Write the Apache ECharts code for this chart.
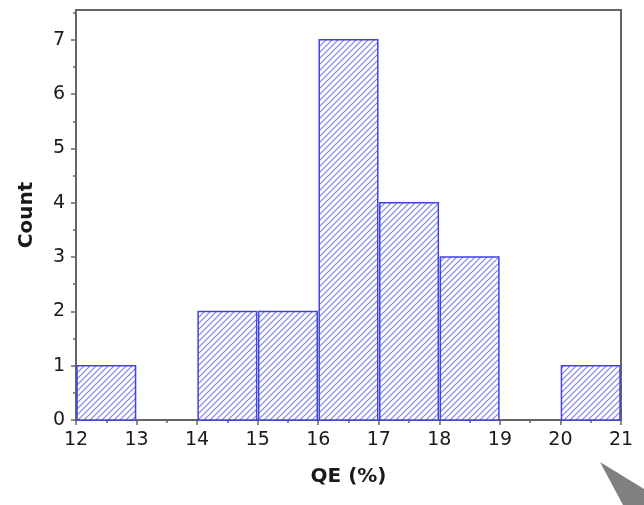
<!DOCTYPE html>
<html>
<head>
<meta charset="utf-8">
<script src="https://cdn.jsdelivr.net/npm/echarts@6/dist/echarts.min.js"></script>
<style>html,body{margin:0;padding:0;background:#fff}#c{width:644px;height:505px}</style>
</head>
<body>
<div id="c"></div>
<script>
// Histogram bins (left edges) and counts
const binStarts = [12, 13, 14, 15, 16, 17, 18, 19, 20];
const binWidth = 1;
const counts = [1, 0, 2, 2, 7, 4, 3, 0, 1];
const xTicks = [12, 13, 14, 15, 16, 17, 18, 19, 20, 21];
const yTicks = [0, 1, 2, 3, 4, 5, 6, 7];
const yMinorTicks = [0.5, 1.5, 2.5, 3.5, 4.5, 5.5, 6.5, 7.5];
const xTitle = 'QE (%)';
const yTitle = 'Count';

function hatch() {
  const s = 6;
  const cv = document.createElement('canvas');
  cv.width = s; cv.height = s;
  const ctx = cv.getContext('2d');
  ctx.fillStyle = '#ffffff';
  ctx.fillRect(0, 0, s, s);
  ctx.strokeStyle = '#7b7be6';
  ctx.lineWidth = 1.1;
  ctx.beginPath();
  ctx.moveTo(-1, s + 1); ctx.lineTo(s + 1, -1);
  ctx.moveTo(-1, 1); ctx.lineTo(1, -1);
  ctx.moveTo(s - 1, s + 1); ctx.lineTo(s + 1, s - 1);
  ctx.stroke();
  return cv;
}
const pattern = hatch();

const chart = echarts.init(document.getElementById('c'), null, {renderer: 'canvas'});
const lblFont = {fontFamily: 'DejaVu Sans', fontSize: 19, color: '#1a1a1a'};
const axisCol = '#666666';
chart.setOption({
  animation: false,
  grid: {left: 76, right: 23, top: 10, bottom: 85, show: true, borderColor: axisCol, borderWidth: 2, backgroundColor: 'transparent'},
  xAxis: {
    type: 'value', min: 12, max: 21, interval: 1,
    name: xTitle, nameLocation: 'middle', nameGap: 47,
    nameTextStyle: {fontFamily: 'DejaVu Sans', fontWeight: 'bold', fontSize: 20, color: '#1a1a1a'},
    axisLine: {show: true, lineStyle: {color: axisCol, width: 2}},
    axisTick: {show: true, inside: false, length: 5, lineStyle: {color: axisCol, width: 1.5}},
    minorTick: {show: true, splitNumber: 2, length: 3, lineStyle: {color: axisCol, width: 1.5}},
    axisLabel: Object.assign({margin: 11, customValues: xTicks}, lblFont),
    splitLine: {show: false}
  },
  yAxis: [{
    type: 'value', min: 0, max: 7.55,
    name: yTitle, nameLocation: 'middle', nameGap: 39, nameRotate: 90,
    nameTextStyle: {fontFamily: 'DejaVu Sans', fontWeight: 'bold', fontSize: 20, color: '#1a1a1a'},
    axisLine: {show: true, lineStyle: {color: axisCol, width: 2}},
    axisTick: {show: true, inside: false, length: 5, customValues: yTicks, lineStyle: {color: axisCol, width: 1.5}},
    axisLabel: Object.assign({margin: 11, customValues: yTicks}, lblFont),
    splitLine: {show: false}
  }, {
    type: 'value', min: 0, max: 7.55, position: 'left',
    axisLine: {show: false},
    axisTick: {show: true, inside: false, length: 3, customValues: yMinorTicks, lineStyle: {color: axisCol, width: 1.5}},
    axisLabel: {show: false},
    splitLine: {show: false}
  }],
  series: [{
    type: 'custom',
    coordinateSystem: 'cartesian2d',
    data: binStarts.map((b, i) => [b, b + binWidth, counts[i]]),
    encode: {x: [0, 1], y: 2},
    renderItem: function (params, api) {
      const v = api.value(2);
      if (!v) return null;
      const p0 = api.coord([api.value(0), v]);
      const p1 = api.coord([api.value(1), 0]);
      return {
        type: 'rect',
        shape: {x: p0[0] + 1, y: p0[1], width: p1[0] - p0[0] - 2, height: p1[1] - p0[1]},
        style: {fill: {image: pattern, repeat: 'repeat'}, stroke: '#4242e0', lineWidth: 1.5}
      };
    },
    z: 1
  }],
  graphic: [{
    type: 'polygon', silent: true,
    shape: {points: [[600, 462], [644, 489], [644, 505], [623, 505]]},
    style: {fill: '#808080'}
  }]
});
</script>
</body>
</html>
